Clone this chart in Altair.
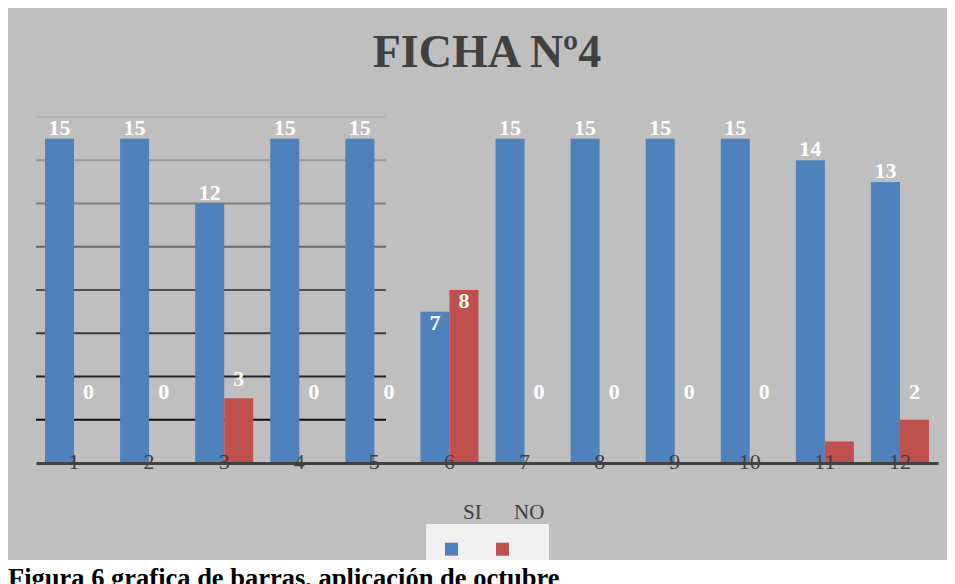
import altair as alt
import pandas as pd

categories = ["1", "2", "3", "4", "5", "6", "7", "8", "9", "10", "11", "12"]
si_values = [15, 15, 12, 15, 15, 7, 15, 15, 15, 15, 14, 13]
no_values = [0, 0, 3, 0, 0, 8, 0, 0, 0, 0, 1, 2]
no_label_text = ["0", "0", "3", "0", "0", "8", "0", "0", "0", "0", "", "2"]
series = ["SI", "NO"]
colors = ["#4f81bd", "#c0504d"]
grid_values = [2, 4, 6, 8, 10, 12, 14, 16]
title_text = "FICHA Nº4"
caption_text = "Figura 6 grafica de barras, aplicación de octubre"

rows = []
for i, c in enumerate(categories):
    rows.append(dict(cat=c, serie="SI", value=si_values[i], label=str(si_values[i])))
    rows.append(dict(cat=c, serie="NO", value=no_values[i], label=no_label_text[i]))
df = pd.DataFrame(rows)
grid_df = pd.DataFrame({"g": grid_values})
cap_df = pd.DataFrame({"caption": [caption_text]})

W, H = 902, 346
SERIF = "Liberation Serif"

x_enc = alt.X(
    "cat:N", sort=categories,
    scale=alt.Scale(paddingInner=0.227, paddingOuter=0.12),
    axis=alt.Axis(title=None, labelAngle=0, ticks=False, tickSize=0, grid=False,
                  domainColor="#404040", domainWidth=3, labelColor="#404040",
                  labelFont=SERIF, labelFontSize=22, labelBaseline="middle",
                  labelPadding=-2, zindex=1),
)
xoff = alt.XOffset("serie:N", sort=series, scale=alt.Scale(domain=series, paddingInner=0, paddingOuter=0))
y_scale = alt.Scale(domain=[0, 16])

base = alt.Chart(df)

caption_bg = alt.Chart(cap_df).mark_rect(color="#ffffff").encode(
    x=alt.value(-28), x2=alt.value(919), y=alt.value(443), y2=alt.value(480)
)
caption = alt.Chart(cap_df).mark_text(
    align="left", baseline="alphabetic", font=SERIF, fontSize=26.5, fontWeight="bold", color="#000000"
).encode(text="caption:N", x=alt.value(-28), y=alt.value(470))

legend_box = alt.Chart(cap_df).mark_rect(color="#f0f0f0").encode(
    x=alt.value(390), x2=alt.value(513), y=alt.value(407), y2=alt.value(443)
)

grid = alt.Chart(grid_df).mark_rule(strokeWidth=2).encode(
    y=alt.Y("g:Q", scale=y_scale, axis=None),
    x=alt.value(0), x2=alt.value(350),
    stroke=alt.Stroke("g:Q", scale=alt.Scale(domain=[2, 16], range=["#0d0d0d", "#b5b5b5"]), legend=None),
)

bars = base.mark_bar().encode(
    x=x_enc,
    xOffset=xoff,
    y=alt.Y("value:Q", scale=y_scale, axis=None),
    color=alt.Color(
        "serie:N", scale=alt.Scale(domain=series, range=colors),
        legend=alt.Legend(
            orient="none", legendX=405, legendY=385, direction="horizontal", title=None,
            symbolType="M-1,4.6H1V6.6H-1Z", symbolSize=169, symbolStrokeWidth=0,
            labelFont=SERIF, labelFontSize=21, labelColor="#404040", labelOffset=1,
            columnPadding=10, padding=0,
        ),
    ),
)

text_props = dict(font=SERIF, fontSize=22, fontWeight="bold", color="#ffffff", baseline="alphabetic")

si_labels = base.transform_filter(
    "datum.serie == 'SI' && datum.cat != '6'"
).mark_text(dy=-4, **text_props).encode(
    x=x_enc, xOffset=xoff, y=alt.Y("value:Q", scale=y_scale, axis=None), text="label:N"
)
no_labels = base.transform_filter(
    "datum.serie == 'NO' && datum.cat != '6'"
).transform_calculate(ly="max(datum.value, 2.4)").mark_text(dy=-12, **text_props).encode(
    x=x_enc, xOffset=xoff, y=alt.Y("ly:Q", scale=y_scale, axis=None), text="label:N"
)
in_labels = base.transform_filter("datum.cat == '6'").mark_text(dy=18, **text_props).encode(
    x=x_enc, xOffset=xoff, y=alt.Y("value:Q", scale=y_scale, axis=None), text="label:N"
)

chart = alt.layer(
    caption_bg, legend_box, grid, bars, si_labels, no_labels, in_labels, caption
).properties(
    width=W, height=H,
    title=alt.Title(text=title_text, font=SERIF, fontSize=46, fontWeight="bold", color="#404040",
                    anchor="middle", offset=3, baseline="alphabetic"),
    autosize=alt.AutoSizeParams(type="none"),
    padding={"left": 28, "top": 109, "right": 9, "bottom": 121},
    background="#bfbfbf",
).configure_view(stroke=None)

chart.save("out.html", embed_options={"renderer": "svg", "actions": False})
